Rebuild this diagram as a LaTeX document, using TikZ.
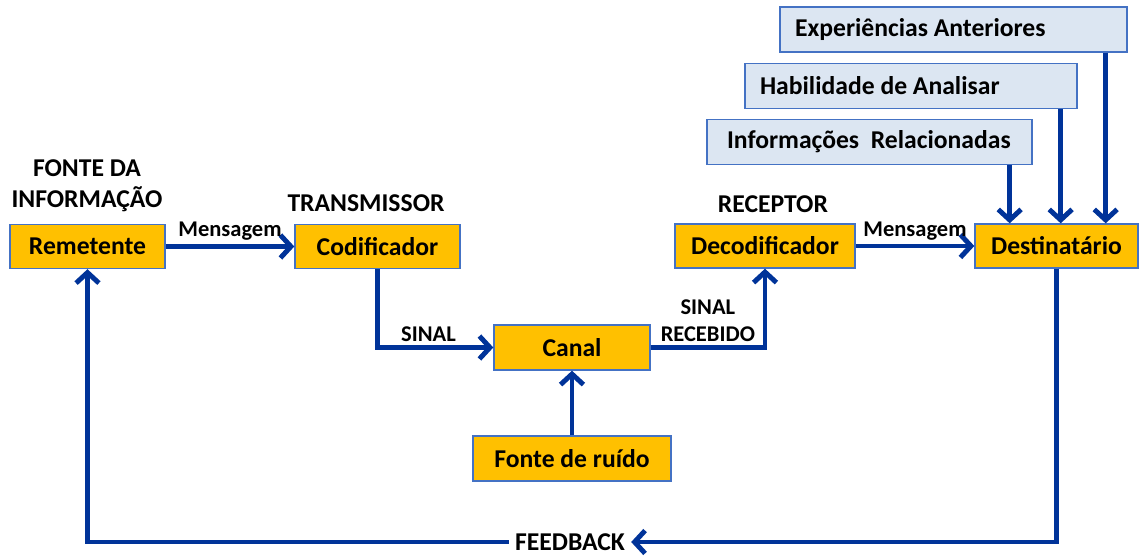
\documentclass[tikz,border=0pt]{standalone}
\usepackage{fontspec}
\setmainfont{Carlito}
\usepackage{tikz}
\usetikzlibrary{arrows.meta}
\definecolor{orangebox}{RGB}{255,192,0}
\definecolor{bluebox}{RGB}{220,230,242}
\definecolor{boxline}{RGB}{68,114,196}
\definecolor{arrowblue}{RGB}{0,51,153}
\newcommand{\bigtxt}{\bfseries\fontsize{14.6}{17.5}\selectfont}
\newcommand{\smalltxt}{\bfseries\fontsize{12.8}{15.5}\selectfont}

\begin{document}
\begin{tikzpicture}[x=0.02cm, y=-0.02cm, auto,
    >={Straight Barb[length=6pt,width=13pt]},
    box/.style={draw=boxline, line width=0.8pt, fill=orangebox, font=\bigtxt, minimum height=0.88cm},
    infobox/.style={draw=boxline, line width=0.8pt, fill=bluebox, font=\bigtxt, minimum height=0.9cm, inner xsep=0.3cm, align=flush left},
    flow/.style={->, draw=arrowblue, line width=2.8pt},
    lbl/.style={font=\smalltxt, inner sep=2pt},
    title/.style={font=\bigtxt, align=center}]
        \useasboundingbox (0,0) rectangle (1140,555);

        \node[box, minimum width=3.1cm] (rem) at (87.5, 246.5) {Remetente};
        \node[box, minimum width=3.3cm] (cod) at (377.5, 246.5) {Codificador};
        \node[box, minimum width=3.12cm, minimum height=0.9cm] (canal) at (572, 347.5) {Canal};
        \node[box, minimum width=3.96cm, minimum height=0.9cm] (ruido) at (572, 458.5) {Fonte de ruído};
        \node[box, minimum width=3.6cm] (dec) at (765, 246) {Decodificador};
        \node[box, minimum width=3.26cm] (dest) at (1056.5, 246) {Destinatário};

        \node[infobox, text width=6.34cm] (exp) at (953.5, 29.5) {Experiências Anteriores};
        \node[infobox, text width=6.04cm] (hab) at (911, 86) {Habilidade de Analisar};
        \node[infobox, text width=5.9cm] (inf) at (869.5, 142) {\hspace{0.1cm}Informações~ Relacionadas};

        \node[title] (fonte) at (87, 186) {FONTE DA\\INFORMAÇÃO};
        \node[title] (trans) at (366, 203) {TRANSMISSOR};
        \node[title] (recep) at (773, 204) {RECEPTOR};
        \node[font=\bigtxt, inner ysep=1pt] (fb) at (570, 542) {FEEDBACK};

        \draw[flow] (rem) to node[lbl]{Mensagem} (cod);
        \draw[flow] (cod.south) |- node[lbl, pos=0.72]{SINAL} (canal.west);
        \draw[flow] (ruido) to (canal);
        \draw[flow] (canal.east) -| node[lbl, pos=0.25, align=center]{SINAL\\RECEBIDO} (dec.south);
        \draw[flow] (dec) to node[lbl]{Mensagem} (dest);

        \coordinate (e1) at ([xshift=-0.46cm]inf.south east);
        \coordinate (e2) at ([xshift=-0.34cm]hab.south east);
        \coordinate (e3) at ([xshift=-0.44cm]exp.south east);
        \draw[flow] (e1) to (e1 |- dest.north);
        \draw[flow] (e2) to (e2 |- dest.north);
        \draw[flow] (e3) to (e3 |- dest.north);

        \draw[flow] (dest.south) |- (fb.east);
        \draw[flow] (fb.west) -| (rem.south);
\end{tikzpicture}
\end{document}
